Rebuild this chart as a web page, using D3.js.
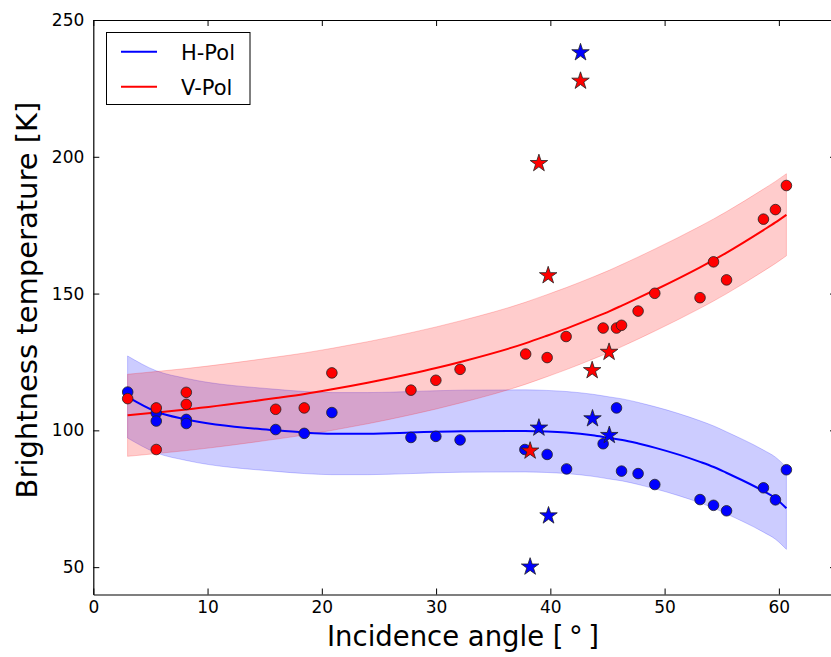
<!DOCTYPE html>
<html>
<head>
<meta charset="utf-8">
<script src="https://cdn.jsdelivr.net/npm/d3@7"></script>
<style>
  html, body { margin: 0; padding: 0; background: #fff; }
  svg { display: block; font-family: "DejaVu Sans", sans-serif; }
</style>
</head>
<body>
<svg id="chart" width="831" height="657"></svg>
<script>
// ---------- data ----------
const xTicks = [0, 10, 20, 30, 40, 50, 60];
const yTicks = [50, 100, 150, 200, 250];
const seriesNames = ["H-Pol", "V-Pol"];
const seriesColors = ["#0000ff", "#ff0000"];

// measured circles (incidence angle, brightness temperature)
const hPolX = [3.01, 5.51, 5.51, 8.14, 8.14, 15.96, 18.46, 20.88, 27.8, 29.98, 32.1, 37.77, 39.72, 41.42, 44.62, 45.79, 46.23, 47.68, 49.14, 53.1, 54.28, 55.42, 58.65, 59.7, 60.66];
const hPolY = [114.0, 106.3, 103.4, 104.0, 102.5, 100.3, 98.9, 106.5, 97.4, 97.8, 96.5, 93.0, 91.2, 85.9, 95.1, 108.2, 85.1, 84.2, 80.2, 74.7, 72.6, 70.6, 79.0, 74.6, 85.6];
const vPolX = [3.01, 5.51, 5.51, 8.14, 8.14, 15.96, 18.46, 20.88, 27.8, 29.98, 32.1, 37.84, 39.72, 41.38, 44.62, 45.79, 46.23, 47.68, 49.14, 53.1, 54.28, 55.42, 58.65, 59.7, 60.66];
const vPolY = [111.6, 108.2, 93.0, 113.9, 109.5, 107.7, 108.2, 121.0, 114.7, 118.3, 122.3, 127.9, 126.6, 134.3, 137.4, 137.4, 138.4, 143.6, 150.1, 148.5, 161.6, 155.0, 177.2, 180.7, 189.5];

// outlier stars
const hStarX = [38.23, 39.0, 39.84, 42.64, 43.69, 45.16];
const hStarY = [50.1, 100.9, 68.8, 238.1, 104.3, 98.2];
const vStarX = [38.23, 39.0, 39.81, 42.64, 43.66, 45.14];
const vStarY = [92.5, 197.6, 156.6, 227.7, 121.9, 128.6];

// model fit lines
const fitX = [3.0, 5.5, 8.14, 16.0, 18.5, 20.9, 24.0, 27.8, 30.0, 32.3, 37.8, 39.7, 41.4, 43.7, 45.2, 46.3, 47.7, 49.2, 53.1, 54.3, 55.4, 58.65, 59.7, 60.66];
const hFitY = [112.2, 106.8, 104.0, 100.0, 99.2, 98.8, 98.8, 99.2, 99.5, 99.7, 99.8, 99.6, 99.2, 98.2, 97.2, 96.5, 95.2, 93.6, 88.5, 86.6, 84.5, 77.8, 75.2, 71.5];
const vFitY = [105.5, 106.5, 107.6, 111.8, 113.3, 115.0, 117.4, 120.7, 122.8, 125.2, 131.8, 134.6, 137.2, 141.0, 143.6, 145.7, 148.4, 151.4, 159.6, 162.3, 164.9, 173.2, 176.0, 178.8];
// half width of the shaded uncertainty band
const hBandHalf = 15;
const vBandHalf = 15;

// ---------- chart ----------
const svg = d3.select("#chart");
const x = d3.scaleLinear().domain([0, 65]).range([93.3, 836]);
const y = d3.scaleLinear().domain([40, 250]).range([594.5, 20]);

svg.append("defs").append("clipPath").attr("id", "plotclip")
  .append("rect").attr("x", x(0)).attr("y", y(250)).attr("width", x(65) - x(0)).attr("height", y(40) - y(250));

const plot = svg.append("g").attr("clip-path", "url(#plotclip)");

const fits = [
  { fy: hFitY, half: hBandHalf, color: seriesColors[0] },
  { fy: vFitY, half: vBandHalf, color: seriesColors[1] }
];

fits.forEach(f => {
  const pts = fitX.map((xv, i) => ({ x: xv, y: f.fy[i] }));
  const area = d3.area().x(d => x(d.x)).y0(d => y(d.y - f.half)).y1(d => y(d.y + f.half)).curve(d3.curveMonotoneX);
  plot.append("path").attr("d", area(pts))
    .attr("fill", f.color).attr("fill-opacity", 0.2)
    .attr("stroke", f.color).attr("stroke-opacity", 0.2).attr("stroke-width", 1);
});
fits.forEach(f => {
  const pts = fitX.map((xv, i) => ({ x: xv, y: f.fy[i] }));
  const line = d3.line().x(d => x(d.x)).y(d => y(d.y)).curve(d3.curveMonotoneX);
  plot.append("path").attr("d", line(pts))
    .attr("fill", "none").attr("stroke", f.color).attr("stroke-width", 2);
});

// circles
[[hPolX, hPolY, seriesColors[0]], [vPolX, vPolY, seriesColors[1]]].forEach(([xs, ys, c]) => {
  plot.append("g").selectAll("circle").data(xs.map((xv, i) => [xv, ys[i]])).join("circle")
    .attr("cx", d => x(d[0])).attr("cy", d => y(d[1])).attr("r", 5.3)
    .attr("fill", c).attr("stroke", "#222").attr("stroke-width", 0.8);
});

// stars
const star = d3.symbol().type(d3.symbolStar).size(95);
[[hStarX, hStarY, seriesColors[0]], [vStarX, vStarY, seriesColors[1]]].forEach(([xs, ys, c]) => {
  plot.append("g").selectAll("path").data(xs.map((xv, i) => [xv, ys[i]])).join("path")
    .attr("d", star)
    .attr("transform", d => `translate(${x(d[0])},${y(d[1])})`)
    .attr("fill", c).attr("stroke", "#222").attr("stroke-width", 0.8);
});

// axes (ticks pointing inward on all four sides)
const tickLen = 6;
const gx = svg.append("g").attr("transform", `translate(0,${y(40)})`)
  .call(d3.axisBottom(x).tickValues(xTicks).tickSizeInner(-tickLen).tickSizeOuter(0).tickPadding(6).tickFormat(d3.format("d")));
const gxt = svg.append("g").attr("transform", `translate(0,${y(250)})`)
  .call(d3.axisTop(x).tickValues(xTicks).tickSizeInner(-tickLen).tickSizeOuter(0).tickFormat(""));
const gy = svg.append("g").attr("transform", `translate(${x(0)},0)`)
  .call(d3.axisLeft(y).tickValues(yTicks).tickSizeInner(-tickLen).tickSizeOuter(0).tickPadding(9).tickFormat(d3.format("d")));
const gyr = svg.append("g").attr("transform", `translate(${x(65)},0)`)
  .call(d3.axisRight(y).tickValues(yTicks).tickSizeInner(-tickLen).tickSizeOuter(0).tickFormat(""));

[gx, gxt, gy, gyr].forEach(g => {
  g.select(".domain").attr("stroke", "#000").attr("stroke-width", 1.2);
  g.selectAll(".tick line").attr("stroke", "#000").attr("stroke-width", 1);
  g.selectAll("text").attr("fill", "#000").attr("font-size", 17).attr("font-family", "DejaVu Sans");
});

// axis titles
svg.append("text").attr("x", 463).attr("y", 646).attr("text-anchor", "middle")
  .attr("font-size", 29).attr("fill", "#000")
  .attr("textLength", 272).attr("lengthAdjust", "spacingAndGlyphs")
  .text("Incidence angle [\u2009\u00B0\u2009]");
svg.append("text").attr("transform", "translate(37,300) rotate(-90)").attr("text-anchor", "middle")
  .attr("font-size", 29).attr("fill", "#000").text("Brightness temperature [K]");

// legend
const lg = svg.append("g");
lg.append("rect").attr("x", 106.5).attr("y", 32.5).attr("width", 143.5).attr("height", 72)
  .attr("fill", "#fff").attr("stroke", "#000").attr("stroke-width", 1);
seriesNames.forEach((name, i) => {
  const yy = 51.7 + i * 35;
  lg.append("line").attr("x1", 121).attr("x2", 157).attr("y1", yy).attr("y2", yy)
    .attr("stroke", seriesColors[i]).attr("stroke-width", 2);
  lg.append("text").attr("x", 181).attr("y", yy + 8).attr("font-size", 21).attr("fill", "#000").text(name);
});
</script>
</body>
</html>
